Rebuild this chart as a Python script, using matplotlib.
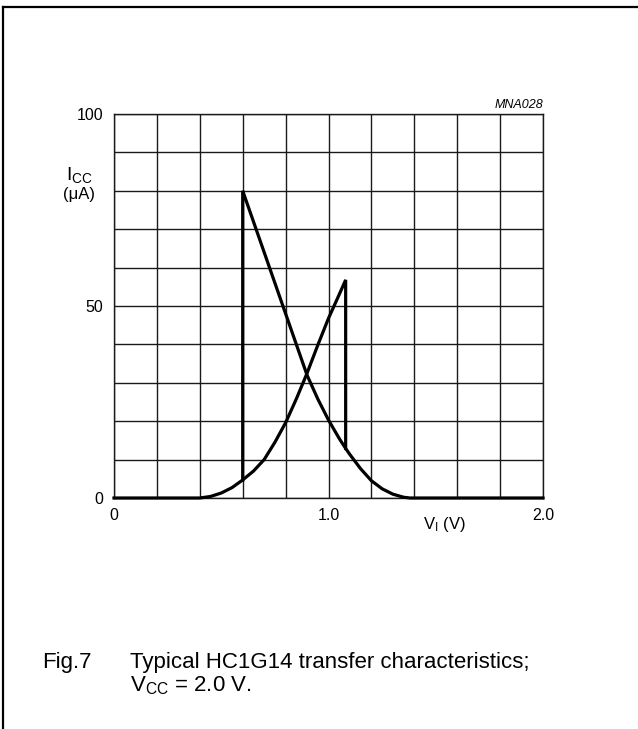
import matplotlib

matplotlib.use("Agg")
import matplotlib.pyplot as plt
from matplotlib.lines import Line2D
import numpy as np

# values (VI in volts, ICC in microamps)
rising_vi = [0.0, 0.40, 0.45, 0.50, 0.55, 0.60, 0.65, 0.70, 0.75, 0.80,
             0.85, 0.90, 0.95, 1.00, 1.05, 1.08, 1.08]
rising_icc = [0.0, 0.0, 0.4, 1.3, 2.7, 4.7, 7.0, 10.0, 14.5, 19.6,
              25.8, 32.5, 39.8, 46.8, 53.0, 56.8, 12.9]

falling_vi = [0.60, 0.60, 0.65, 0.70, 0.75, 0.80, 0.85, 0.90, 0.95, 1.00,
              1.05, 1.08, 1.10, 1.15, 1.20, 1.25, 1.30, 1.35, 1.38, 2.0]
falling_icc = [4.7, 80.0, 72.0, 64.0, 56.0, 48.0, 40.0, 32.0, 25.8, 20.3,
               15.5, 12.9, 11.3, 7.6, 4.5, 2.4, 1.0, 0.2, 0.0, 0.0]

x_ticks = [0.0, 1.0, 2.0]
x_tick_labels = ["0", "1.0", "2.0"]
y_ticks = [0, 50, 100]
y_tick_labels = ["0", "50", "100"]

W, H = 638, 729

plt.rcParams["font.family"] = ["Liberation Sans", "DejaVu Sans"]
plt.rcParams["mathtext.fontset"] = "custom"
plt.rcParams["mathtext.rm"] = "Liberation Sans"
plt.rcParams["mathtext.it"] = "Liberation Sans:italic"


def fig_text(fig, x_px, y_px, text, **kwargs):
    """Place text at pixel coordinates measured from the top-left corner."""
    return fig.text(x_px / W, 1 - y_px / H, text, **kwargs)


fig = plt.figure(figsize=(W / 100, H / 100), dpi=100)
ax = fig.add_axes([114 / W, 231 / H, 429 / W, 384 / H])

ax.set_xlim(0, 2.0)
ax.set_ylim(0, 100)
ax.set_xticks(np.arange(0, 2.01, 0.2), minor=True)
ax.set_yticks(np.arange(0, 101, 10), minor=True)
ax.set_xticks(x_ticks)
ax.set_xticklabels(x_tick_labels)
ax.set_yticks(y_ticks)
ax.set_yticklabels(y_tick_labels)
ax.grid(True, which="both", color="#1a1a1a", linewidth=1.0)
ax.tick_params(which="both", length=0, labelsize=11.5)
ax.tick_params(axis="x", pad=7)
ax.tick_params(axis="y", pad=8)
for spine in ax.spines.values():
    spine.set_linewidth(1.0)
    spine.set_color("#1a1a1a")

ax.plot(rising_vi, rising_icc, color="black", linewidth=2.3,
        solid_joinstyle="miter", clip_on=False, zorder=5)
ax.plot(falling_vi, falling_icc, color="black", linewidth=2.3,
        solid_joinstyle="miter", clip_on=False, zorder=5)

fig_text(fig, 66, 180, r"I$_{\mathrm{CC}}$", fontsize=14, ha="left", va="baseline")
fig_text(fig, 63, 199, "(μA)", fontsize=12, ha="left", va="baseline")
fig_text(fig, 423, 529, r"V$_{\mathrm{I}}$ (V)", fontsize=12, ha="left", va="baseline")
fig_text(fig, 543, 108, "MNA028", fontsize=9, style="italic",
         ha="right", va="baseline")

fig_text(fig, 42, 668, "Fig.7", fontsize=16, ha="left", va="baseline")
fig_text(fig, 130, 668, "Typical HC1G14 transfer characteristics;",
         fontsize=16, ha="left", va="baseline")
fig_text(fig, 130, 691, r"V$_{\mathrm{CC}}$ = 2.0 V.",
         fontsize=16, ha="left", va="baseline")

# open frame around the figure: top and left edges only
fig.add_artist(Line2D([3 / W, 1.0], [1 - 7 / H, 1 - 7 / H],
                      transform=fig.transFigure, color="black", linewidth=1.6))
fig.add_artist(Line2D([3 / W, 3 / W], [0.0, 1 - 7 / H],
                      transform=fig.transFigure, color="black", linewidth=1.6))

fig.savefig("out.png", dpi=100)
